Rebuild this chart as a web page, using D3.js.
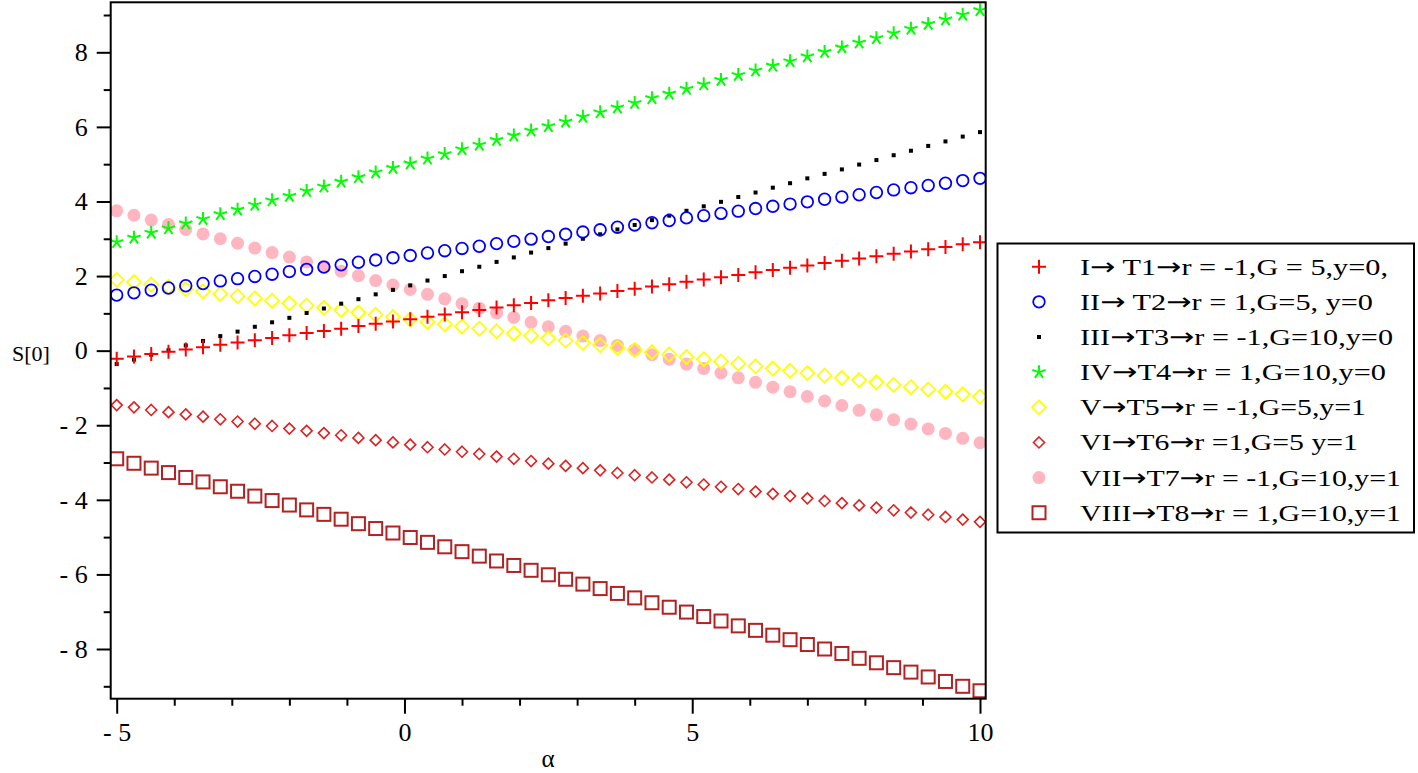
<!DOCTYPE html>
<html><head><meta charset="utf-8">
<script src="https://cdn.jsdelivr.net/npm/d3@7"></script>
<style>
html,body{margin:0;padding:0;background:#fff;}
svg{display:block;}
text{font-family:"Liberation Serif","Times New Roman",serif;fill:#000;}
tspan.arr{font-family:"DejaVu Sans",sans-serif;}
</style></head>
<body>
<svg id="chart" width="1418" height="773"></svg>
<script>
const alpha = [-5,-4.7,-4.4,-4.1,-3.8,-3.5,-3.2,-2.9,-2.6,-2.3,-2,-1.7,-1.4,-1.1,-0.8,-0.5,-0.2,0.1,0.4,0.7,1,1.3,1.6,1.9,2.2,2.5,2.8,3.1,3.4,3.7,4,4.3,4.6,4.9,5.2,5.5,5.8,6.1,6.4,6.7,7,7.3,7.6,7.9,8.2,8.5,8.8,9.1,9.4,9.7,10];
const T1 = [-0.22,-0.16,-0.09,-0.03,0.03,0.09,0.16,0.22,0.28,0.34,0.41,0.47,0.53,0.59,0.66,0.72,0.78,0.84,0.91,0.97,1.03,1.09,1.16,1.22,1.28,1.35,1.41,1.47,1.53,1.60,1.66,1.72,1.78,1.85,1.91,1.97,2.03,2.10,2.16,2.22,2.28,2.35,2.41,2.47,2.53,2.60,2.66,2.72,2.78,2.85,2.91];
const T2 = [1.49,1.55,1.62,1.68,1.74,1.80,1.87,1.93,1.99,2.05,2.12,2.18,2.24,2.30,2.37,2.43,2.49,2.55,2.62,2.68,2.74,2.80,2.87,2.93,2.99,3.06,3.12,3.18,3.24,3.31,3.37,3.43,3.49,3.56,3.62,3.68,3.74,3.81,3.87,3.93,3.99,4.06,4.12,4.18,4.24,4.31,4.37,4.43,4.49,4.56,4.62];
const T3 = [-0.36,-0.24,-0.11,0.01,0.14,0.26,0.39,0.51,0.64,0.76,0.88,1.01,1.13,1.26,1.38,1.51,1.63,1.75,1.88,2.00,2.13,2.25,2.38,2.50,2.63,2.75,2.87,3.00,3.12,3.25,3.37,3.50,3.62,3.75,3.87,3.99,4.12,4.24,4.37,4.49,4.62,4.74,4.86,4.99,5.11,5.24,5.36,5.49,5.61,5.74,5.86];
const T4 = [2.91,3.03,3.16,3.28,3.41,3.53,3.66,3.78,3.91,4.03,4.15,4.28,4.40,4.53,4.65,4.78,4.90,5.02,5.15,5.27,5.40,5.52,5.65,5.77,5.90,6.02,6.14,6.27,6.39,6.52,6.64,6.77,6.89,7.02,7.14,7.26,7.39,7.51,7.64,7.76,7.89,8.01,8.13,8.26,8.38,8.51,8.63,8.76,8.88,9.01,9.13];
const T5 = [1.90,1.84,1.77,1.71,1.65,1.59,1.52,1.46,1.40,1.34,1.27,1.21,1.15,1.09,1.02,0.96,0.90,0.84,0.77,0.71,0.65,0.59,0.52,0.46,0.40,0.33,0.27,0.21,0.15,0.08,0.02,-0.04,-0.10,-0.17,-0.23,-0.29,-0.35,-0.42,-0.48,-0.54,-0.60,-0.67,-0.73,-0.79,-0.85,-0.92,-0.98,-1.04,-1.10,-1.17,-1.23];
const T6 = [-1.46,-1.52,-1.59,-1.65,-1.71,-1.77,-1.84,-1.90,-1.96,-2.02,-2.09,-2.15,-2.21,-2.27,-2.34,-2.40,-2.46,-2.52,-2.59,-2.65,-2.71,-2.77,-2.84,-2.90,-2.96,-3.03,-3.09,-3.15,-3.21,-3.28,-3.34,-3.40,-3.46,-3.53,-3.59,-3.65,-3.71,-3.78,-3.84,-3.90,-3.96,-4.03,-4.09,-4.15,-4.21,-4.28,-4.34,-4.40,-4.46,-4.53,-4.59];
const T7 = [3.75,3.63,3.50,3.38,3.25,3.13,3.00,2.88,2.75,2.63,2.51,2.38,2.26,2.13,2.01,1.88,1.76,1.64,1.51,1.39,1.26,1.14,1.01,0.89,0.76,0.64,0.52,0.39,0.27,0.14,0.02,-0.11,-0.23,-0.36,-0.48,-0.60,-0.73,-0.85,-0.98,-1.10,-1.23,-1.35,-1.47,-1.60,-1.72,-1.85,-1.97,-2.10,-2.22,-2.35,-2.47];
const T8 = [-2.90,-3.02,-3.15,-3.27,-3.40,-3.52,-3.65,-3.77,-3.90,-4.02,-4.14,-4.27,-4.39,-4.52,-4.64,-4.77,-4.89,-5.01,-5.14,-5.26,-5.39,-5.51,-5.64,-5.76,-5.89,-6.01,-6.13,-6.26,-6.38,-6.51,-6.63,-6.76,-6.88,-7.01,-7.13,-7.25,-7.38,-7.50,-7.63,-7.75,-7.88,-8.00,-8.12,-8.25,-8.37,-8.50,-8.62,-8.75,-8.87,-9.00,-9.12];
const legendLabels = [
  "I\u2192 T1\u2192r = -1,G = 5,y=0,",
  "II\u2192 T2\u2192r = 1,G=5, y=0",
  "III\u2192T3\u2192r = -1,G=10,y=0",
  "IV\u2192T4\u2192r = 1,G=10,y=0",
  "V\u2192T5\u2192r = -1,G=5,y=1",
  "VI\u2192T6\u2192r =1,G=5 y=1",
  "VII\u2192T7\u2192r = -1,G=10,y=1",
  "VIII\u2192T8\u2192r = 1,G=10,y=1"
];
const xTicks = [-5,0,5,10];
const yTicks = [-8,-6,-4,-2,0,2,4,6,8];
const xLabel = "\u03b1";
const yLabel = "S[0]";

const seriesData = [T1,T2,T3,T4,T5,T6,T7,T8];
const markers = ["cross","circle","dot","star","diamond","smalldiamond","disc","square"];
const colors = ["#ff0000","#0000ff","#000000","#00ff00","#ffff00","#dd2222","#ffb6c1","#b22222"];
const legendWidths = [308,293,313,306,286,278,321,321];

const svg = d3.select("#chart");
const frame = {left:110.7, right:985.7, top:2.3, bottom:698.7};
const x = d3.scaleLinear().domain([-5,10]).range([116.7,980]);
const y = d3.scaleLinear().domain([-8,8]).range([649,52.3]);

svg.append("clipPath").attr("id","plotclip").append("rect")
  .attr("x",frame.left).attr("y",frame.top)
  .attr("width",frame.right-frame.left).attr("height",frame.bottom-frame.top);

function drawMarker(g, type, color){
  if(type==="cross"){
    g.append("path").attr("d","M-7,0H7M0,-7V7").attr("stroke",color).attr("stroke-width",2).attr("fill","none");
  } else if(type==="circle"){
    g.append("circle").attr("r",5.8).attr("stroke",color).attr("stroke-width",1.8).attr("fill","none");
  } else if(type==="dot"){
    g.append("rect").attr("x",-2).attr("y",-2).attr("width",4).attr("height",4).attr("fill",color);
  } else if(type==="star"){
    let d="";
    for(let i=0;i<5;i++){const a=(-90+72*i)*Math.PI/180; d+=`M0,0L${(7*Math.cos(a)).toFixed(2)},${(7*Math.sin(a)).toFixed(2)}`;}
    g.append("path").attr("d",d).attr("stroke",color).attr("stroke-width",2).attr("fill","none");
  } else if(type==="diamond"){
    g.append("path").attr("d","M0,-7L7,0L0,7L-7,0Z").attr("stroke",color).attr("stroke-width",1.8).attr("fill","none");
  } else if(type==="smalldiamond"){
    g.append("path").attr("d","M0,-5.5L5.5,0L0,5.5L-5.5,0Z").attr("stroke",color).attr("stroke-width",1.6).attr("fill","none");
  } else if(type==="disc"){
    g.append("circle").attr("r",6.5).attr("fill",color);
  } else if(type==="square"){
    g.append("rect").attr("x",-6.5).attr("y",-6.5).attr("width",13).attr("height",13).attr("stroke",color).attr("stroke-width",2).attr("fill","none");
  }
}

const plot = svg.append("g").attr("clip-path","url(#plotclip)");
for(let s=seriesData.length-1;s>=0;s--){
  const gs = plot.append("g");
  seriesData[s].forEach((v,i)=>{
    const g = gs.append("g").attr("transform",`translate(${x(alpha[i])},${y(v)})`);
    drawMarker(g, markers[s], colors[s]);
  });
}

// frame
svg.append("rect").attr("x",frame.left).attr("y",frame.top)
  .attr("width",frame.right-frame.left).attr("height",frame.bottom-frame.top)
  .attr("fill","none").attr("stroke","#000").attr("stroke-width",2);

// x axis
const xAxis = d3.axisBottom(x).tickValues(xTicks).tickSize(15).tickPadding(9).tickFormat(d3.format("d"));
const xg = svg.append("g").attr("transform",`translate(0,${frame.bottom})`).call(xAxis);
xg.attr("font-size",26).attr("font-family",null);
xg.select(".domain").remove();
xg.selectAll("line").attr("stroke","#000").attr("stroke-width",2);
xg.selectAll("text").style("font-size","26px").text(d=>d<0?"- "+(-d):d);
const xMinor = d3.range(-5,11,1).filter(v=>!xTicks.includes(v));
const xmg = svg.append("g").attr("transform",`translate(0,${frame.bottom})`)
  .call(d3.axisBottom(x).tickValues(xMinor).tickSize(7).tickFormat(""));
xmg.select(".domain").remove();
xmg.selectAll("line").attr("stroke","#000").attr("stroke-width",2);

// y axis
const yAxis = d3.axisLeft(y).tickValues(yTicks).tickSize(14).tickPadding(9).tickFormat(d3.format("d"));
const yg = svg.append("g").attr("transform",`translate(${frame.left},0)`).call(yAxis);
yg.attr("font-size",26).attr("font-family",null);
yg.select(".domain").remove();
yg.selectAll("line").attr("stroke","#000").attr("stroke-width",2);
yg.selectAll("text").style("font-size","26px").text(d=>d<0?"- "+(-d):d);
const yMinor = [-9,-7,-5,-3,-1,1,3,5,7,9];
const ymg = svg.append("g").attr("transform",`translate(${frame.left},0)`)
  .call(d3.axisLeft(y).tickValues(yMinor).tickSize(7).tickFormat(""));
ymg.select(".domain").remove();
ymg.selectAll("line").attr("stroke","#000").attr("stroke-width",2);

// axis labels
svg.append("text").attr("x",548).attr("y",767).attr("text-anchor","middle").style("font-size","25px").text(xLabel);
svg.append("text").attr("x",12).attr("y",361).style("font-size","22px").text(yLabel);

// legend
const lg = svg.append("g");
lg.append("rect").attr("x",997.5).attr("y",243.5).attr("width",416.5).attr("height",289)
  .attr("fill","#fff").attr("stroke","#000").attr("stroke-width",2);
legendLabels.forEach((lab,i)=>{
  const cy = 266.7 + i*35.15;
  const g = lg.append("g").attr("transform",`translate(1039,${cy})`);
  drawMarker(g, markers[i], colors[i]);
  const t = lg.append("text").attr("x",1080).attr("y",cy+8).style("font-size","24px")
    .attr("textLength",legendWidths[i]).attr("lengthAdjust","spacingAndGlyphs");
  lab.split(/(\u2192)/).forEach(part=>{
    if(part==="\u2192") t.append("tspan").attr("class","arr").text(part);
    else if(part.length) t.append("tspan").text(part);
  });
});
</script>
</body></html>
